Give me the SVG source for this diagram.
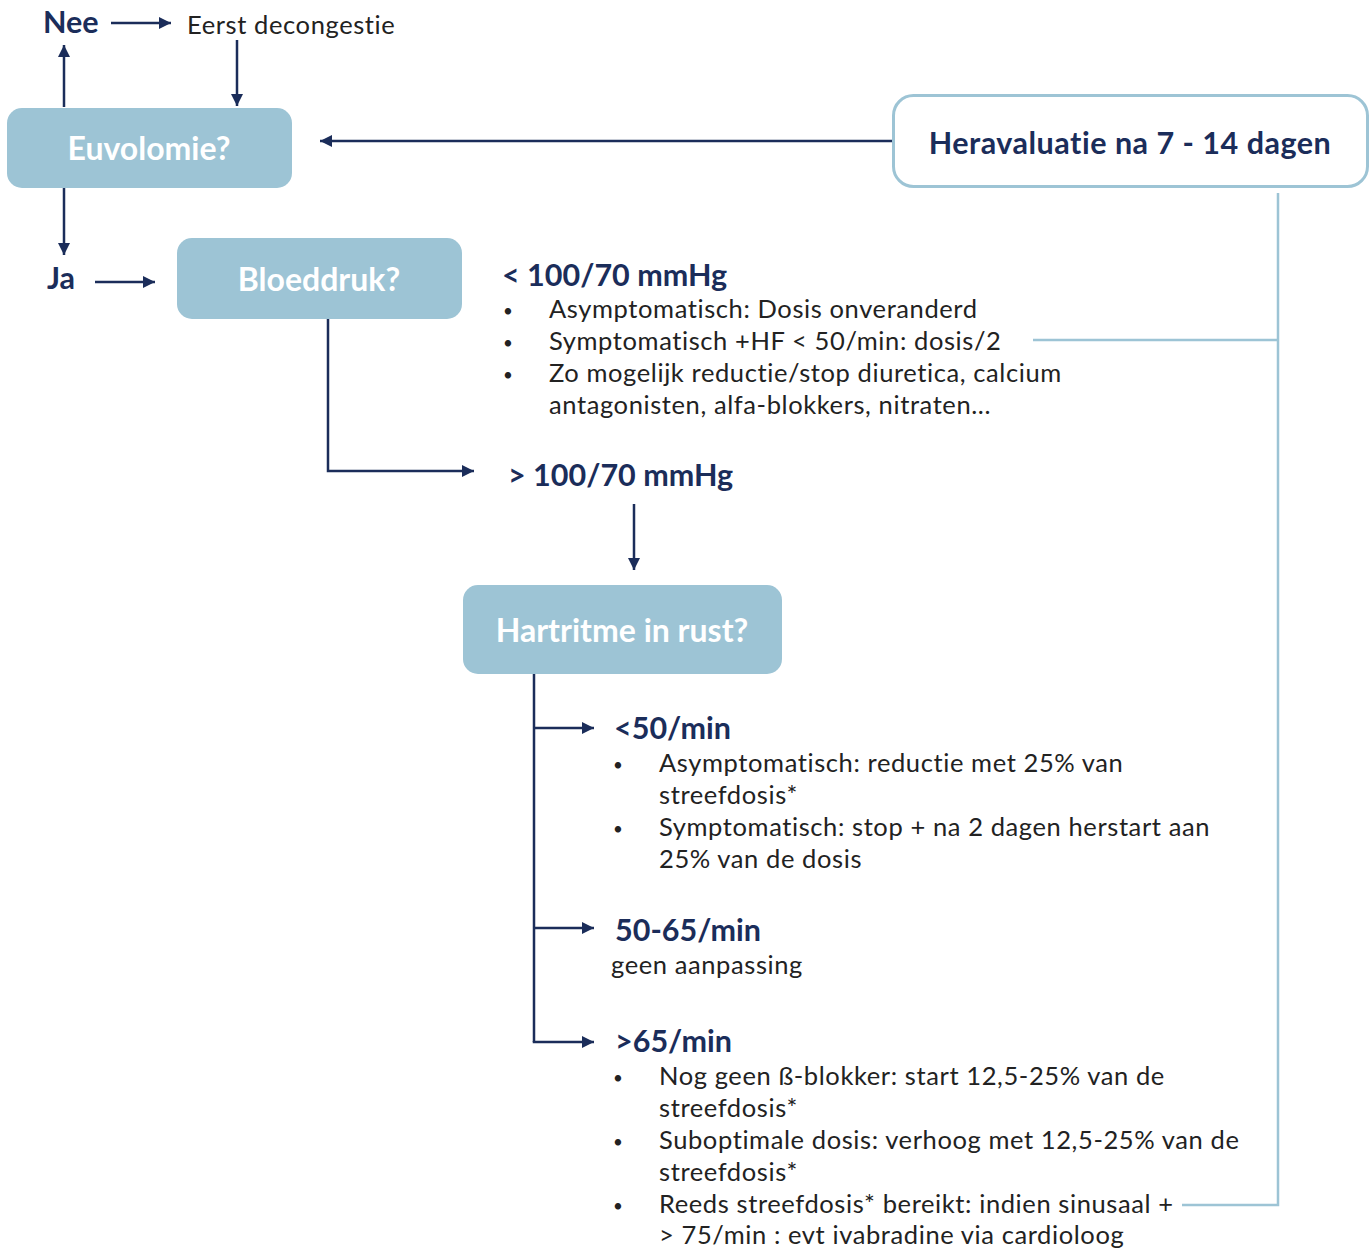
<svg xmlns="http://www.w3.org/2000/svg" width="1372" height="1249" viewBox="0 0 1372 1249">
<defs>
<marker id="ah" viewBox="0 0 10 10" refX="10" refY="5" markerWidth="20" markerHeight="12" markerUnits="userSpaceOnUse" orient="auto">
<path d="M0,0 L10,5 L0,10 z" fill="#1b2d5a"/>
</marker>
<style>
.box{fill:#9dc4d5;}
.boxt{fill:#ffffff;font-family:Lato,"Open Sans",sans-serif;font-weight:700;font-size:32px;text-anchor:middle;}
.hd{fill:#1b2d5a;font-family:Lato,"Open Sans",sans-serif;font-weight:700;font-size:30.5px;}
.tx{fill:#222222;font-family:Lato,"Open Sans",sans-serif;font-size:25.5px;letter-spacing:0.6px;}
.bu{fill:#222222;font-family:Lato,"Open Sans",sans-serif;font-size:17px;}
.ar{stroke:#1b2d5a;stroke-width:2.5;fill:none;}
.lb{stroke:#9dc4d5;stroke-width:2.5;fill:none;}
</style>
</defs>
<g id="connectors">
<line class="ar" x1="64" y1="107" x2="64" y2="45" marker-end="url(#ah)"/>
<line class="ar" x1="111" y1="23" x2="171" y2="23" marker-end="url(#ah)"/>
<line class="ar" x1="237" y1="40" x2="237" y2="106" marker-end="url(#ah)"/>
<line class="ar" x1="893" y1="141" x2="320" y2="141" marker-end="url(#ah)"/>
<line class="ar" x1="64" y1="188" x2="64" y2="255" marker-end="url(#ah)"/>
<line class="ar" x1="95" y1="282" x2="155" y2="282" marker-end="url(#ah)"/>
<polyline class="ar" points="328,319 328,471 474,471" marker-end="url(#ah)"/>
<line class="ar" x1="634" y1="504" x2="634" y2="570" marker-end="url(#ah)"/>
<line class="ar" x1="534" y1="674" x2="534" y2="1042"/>
<line class="ar" x1="534" y1="728" x2="594" y2="728" marker-end="url(#ah)"/>
<line class="ar" x1="534" y1="928" x2="594" y2="928" marker-end="url(#ah)"/>
<polyline class="ar" points="534,1041 534,1042 594,1042" marker-end="url(#ah)"/>
<polyline class="lb" points="1278,193 1278,1205 1182,1205"/>
<line class="lb" x1="1033" y1="340" x2="1278" y2="340"/>
</g>
<g id="nee"><text class="hd" x="43" y="33">Nee</text></g>
<g id="eerst"><text class="tx" x="187" y="34">Eerst decongestie</text></g>
<g id="euvolomie">
<rect class="box" x="7" y="108" width="285" height="80" rx="15"/>
<text class="boxt" x="149" y="160">Euvolomie?</text>
</g>
<g id="heravaluatie">
<rect x="893.5" y="95.5" width="474" height="91" rx="20" fill="#ffffff" stroke="#9dc4d5" stroke-width="3"/>
<text class="hd" x="1130" y="154" text-anchor="middle" style="letter-spacing:0.5px">Heravaluatie na 7 - 14 dagen</text>
</g>
<g id="ja"><text class="hd" x="47" y="289">Ja</text></g>
<g id="bloeddruk">
<rect class="box" x="177" y="238" width="285" height="81" rx="15"/>
<text class="boxt" x="319" y="291">Bloeddruk?</text>
</g>
<g id="lt100">
<text class="hd" x="502" y="286">&lt; 100/70 mmHg</text>
<text class="bu" x="503" y="317">•</text><text class="tx" x="549" y="318">Asymptomatisch: Dosis onveranderd</text>
<text class="bu" x="503" y="349">•</text><text class="tx" x="549" y="350">Symptomatisch +HF &lt; 50/min: dosis/2</text>
<text class="bu" x="503" y="381">•</text><text class="tx" x="549" y="382">Zo mogelijk reductie/stop diuretica, calcium</text>
<text class="tx" x="549" y="414">antagonisten, alfa-blokkers, nitraten...</text>
</g>
<g id="gt100"><text class="hd" x="508" y="486">&gt; 100/70 mmHg</text></g>
<g id="hartritme">
<rect class="box" x="463" y="585" width="319" height="89" rx="15"/>
<text class="boxt" x="622" y="642">Hartritme in rust?</text>
</g>
<g id="lt50">
<text class="hd" x="614" y="739">&lt;50/min</text>
<text class="bu" x="613" y="771">•</text><text class="tx" x="659" y="772">Asymptomatisch: reductie met 25% van</text>
<text class="tx" x="659" y="804">streefdosis*</text>
<text class="bu" x="613" y="835">•</text><text class="tx" x="659" y="836">Symptomatisch: stop + na 2 dagen herstart aan</text>
<text class="tx" x="659" y="868">25% van de dosis</text>
</g>
<g id="r5065">
<text class="hd" x="615" y="941">50-65/min</text>
<text class="tx" x="611" y="974">geen aanpassing</text>
</g>
<g id="gt65">
<text class="hd" x="615" y="1052">&gt;65/min</text>
<text class="bu" x="613" y="1084">•</text><text class="tx" x="659" y="1085">Nog geen ß-blokker: start 12,5-25% van de</text>
<text class="tx" x="659" y="1117">streefdosis*</text>
<text class="bu" x="613" y="1148">•</text><text class="tx" x="659" y="1149">Suboptimale dosis: verhoog met 12,5-25% van de</text>
<text class="tx" x="659" y="1181">streefdosis*</text>
<text class="bu" x="613" y="1212">•</text><text class="tx" x="659" y="1212.5">Reeds streefdosis* bereikt: indien sinusaal +</text>
<text class="tx" x="659" y="1243.5">&gt; 75/min : evt ivabradine via cardioloog</text>
</g>
</svg>
